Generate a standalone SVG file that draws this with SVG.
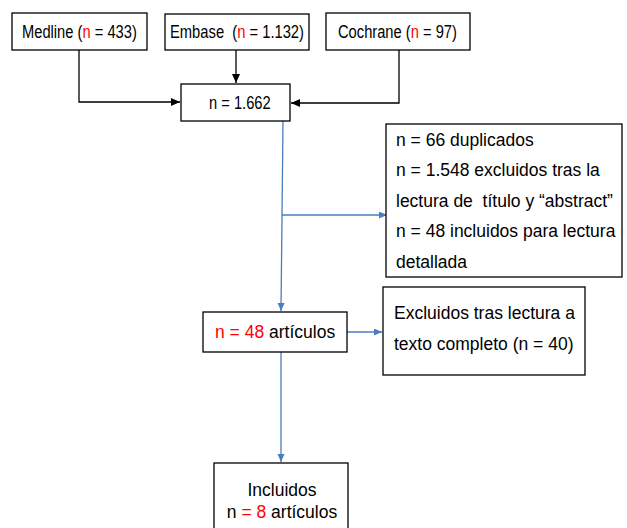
<svg xmlns="http://www.w3.org/2000/svg" width="627" height="528" viewBox="0 0 627 528">
<defs>
<style>
.box{fill:#fff;stroke:#000;stroke-width:1.3}
text{font-family:"Liberation Sans",Arial,Helvetica,sans-serif;font-size:17.5px;fill:#000;white-space:pre}
.r{fill:#ff0000}
.bk{fill:none;stroke:#000;stroke-width:1.3}
.bl{fill:none;stroke:#4a7ebb;stroke-width:1.3}
</style>
<marker id="ab" markerWidth="10" markerHeight="10" refX="9" refY="4" orient="auto" markerUnits="userSpaceOnUse"><path d="M0,0 L9,4 L0,8 z" fill="#000"/></marker>
<marker id="au" markerWidth="10" markerHeight="10" refX="8" refY="3.5" orient="auto" markerUnits="userSpaceOnUse"><path d="M0,0 L8,3.5 L0,7 z" fill="#4a7ebb"/></marker>
</defs>
<rect width="627" height="528" fill="#fff"/>
<g id="connectors">
<path class="bk" d="M79,50 V102 H180" marker-end="url(#ab)"/>
<path class="bk" d="M236,50 V83" marker-end="url(#ab)"/>
<path class="bk" d="M399,50 V103 H291" marker-end="url(#ab)"/>
<path class="bl" d="M283,121 L281,311" marker-end="url(#au)"/>
<path class="bl" d="M282,215 H387" marker-end="url(#au)"/>
<path class="bl" d="M347,332 H382" marker-end="url(#au)"/>
<path class="bl" d="M281,352 V462" marker-end="url(#au)"/>
</g>
<g id="medline">
<rect class="box" x="12" y="13" width="135" height="37"/>
<text transform="translate(22,38) scale(0.84,1)">Medline (<tspan class="r">n</tspan> = 433)</text>
</g>
<g id="embase">
<rect class="box" x="165" y="14" width="144" height="36"/>
<text transform="translate(170,38) scale(0.843,1)">Embase  (<tspan class="r">n</tspan> = 1.132)</text>
</g>
<g id="cochrane">
<rect class="box" x="326" y="13" width="144" height="37"/>
<text transform="translate(338,38) scale(0.84,1)">Cochrane (<tspan class="r">n</tspan> = 97)</text>
</g>
<g id="total">
<rect class="box" x="181" y="84" width="109" height="37"/>
<text transform="translate(209,109) scale(0.84,1)">n = 1.662</text>
</g>
<g id="excluded1">
<rect class="box" x="386" y="124" width="236" height="153"/>
<text x="396" y="146">n = 66 duplicados</text>
<text x="396" y="176">n = 1.548 excluidos tras la</text>
<text x="396" y="207">lectura de  título y “abstract”</text>
<text x="396" y="237">n = 48 incluidos para lectura</text>
<text x="396" y="268">detallada</text>
</g>
<g id="articles48">
<rect class="box" x="203" y="312" width="144" height="40"/>
<text x="215" y="338"><tspan class="r">n = 48</tspan> artículos</text>
</g>
<g id="excluded2">
<rect class="box" x="383" y="287" width="202" height="88"/>
<text x="394" y="319">Excluidos tras lectura a</text>
<text x="394" y="350">texto completo (n = 40)</text>
</g>
<g id="included">
<rect class="box" x="214" y="463" width="134" height="75"/>
<text x="282" y="496" text-anchor="middle">Incluidos</text>
<text x="282" y="518" text-anchor="middle">n <tspan class="r">= 8</tspan> artículos</text>
</g>
</svg>
